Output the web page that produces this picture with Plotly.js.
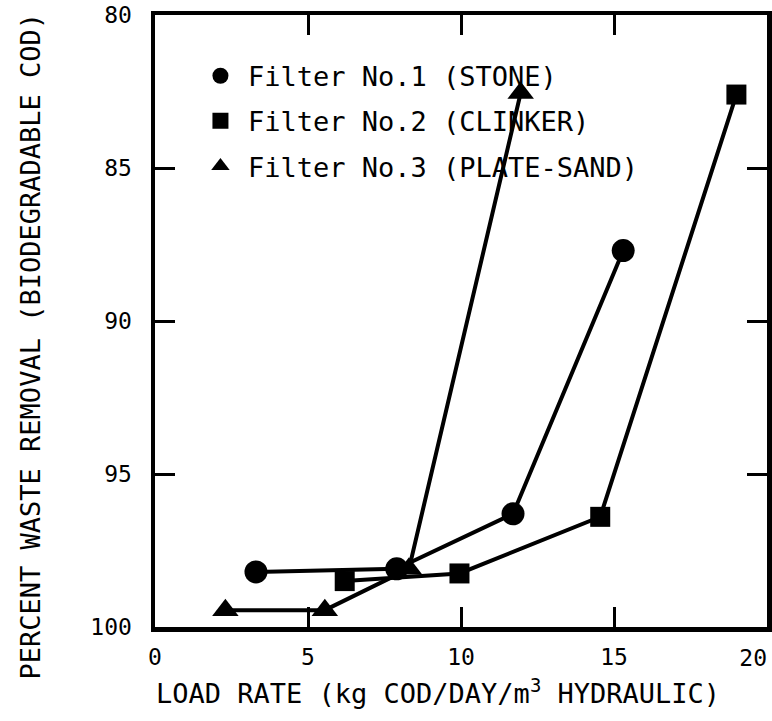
<!DOCTYPE html>
<html>
<head>
<meta charset="utf-8">
<script src="https://cdn.plot.ly/plotly-3.0.1.min.js"></script>
<style>html,body{margin:0;padding:0;background:#fff;}</style>
</head>
<body>
<div id="chart" style="width:772px;height:721px;"></div>
<script>
const filter1X = [3.3, 7.9, 11.7, 15.3];
const filter1Y = [98.2, 98.1, 96.3, 87.7];
const filter2X = [6.2, 9.95, 14.55, 19.0];
const filter2Y = [98.5, 98.25, 96.4, 82.6];
const filter3X = [2.3, 5.55, 8.3, 11.95];
const filter3Y = [99.45, 99.45, 98.1, 82.55];
const seriesNames = ["Filter No.1 (STONE)", "Filter No.2 (CLINKER)", "Filter No.3 (PLATE-SAND)"];
const xTicks = [0, 5, 10, 15];
const xTickText = ["0", "5", "10", "15"];
const xEdgeTick = [20];
const xEdgeText = ["20"];
const yTicks = [80, 85, 90, 95, 100];
const xTitle = "LOAD RATE (kg COD/DAY/m<sup>3</sup> HYDRAULIC)";
const yTitle = "PERCENT WASTE REMOVAL (BIODEGRADABLE COD)";

const FONT = "DejaVu Sans Mono, Liberation Mono, monospace";
const line = {color: "#000", width: 4};

const traces = [
  {x: filter1X, y: filter1Y, mode: "lines+markers", line: line, showlegend: false,
   marker: {symbol: "circle", size: 23, color: "#000"}},
  {x: filter2X, y: filter2Y, mode: "lines+markers", line: line, showlegend: false,
   marker: {symbol: "square", size: 20, color: "#000"}},
  {x: filter3X, y: filter3Y, mode: "lines+markers", line: line, showlegend: false,
   marker: {symbol: "triangle-up", size: 23, color: "#000"}},
  {x: [null], y: [null], mode: "markers", name: seriesNames[0], legendgroup: "a",
   marker: {symbol: "circle", size: 23, color: "#000"}},
  {x: [null], y: [null], mode: "markers", name: seriesNames[1], legendgroup: "b",
   marker: {symbol: "square", size: 20, color: "#000"}},
  {x: [null], y: [null], mode: "markers", name: seriesNames[2], legendgroup: "c",
   marker: {symbol: "triangle-up", size: 23, color: "#000"}},
  {x: [null], y: [null], xaxis: "x2", yaxis: "y", mode: "markers", showlegend: false, hoverinfo: "skip"}
];

const layout = {
  width: 772, height: 721,
  paper_bgcolor: "#fff", plot_bgcolor: "#fff",
  margin: {l: 155, r: 5, t: 15, b: 94},
  font: {family: FONT, color: "#000", size: 24},
  xaxis: {
    range: [0, 20], tickvals: xTicks, ticktext: xTickText,
    ticks: "inside", ticklen: 20, tickwidth: 3, tickcolor: "#000",
    showline: true, linewidth: 4.5, linecolor: "#000", mirror: "ticks",
    showgrid: false, zeroline: false,
    tickfont: {family: FONT, size: 23},
    ticklabelstandoff: 6
  },
  xaxis2: {
    range: [0, 20], overlaying: "x", anchor: "y", side: "bottom",
    tickvals: xEdgeTick, ticktext: xEdgeText,
    ticks: "", showline: false, showgrid: false, zeroline: false,
    tickfont: {family: FONT, size: 23},
    ticklabelposition: "outside left", ticklabelstandoff: 15
  },
  yaxis: {
    range: [100, 80], tickvals: yTicks, ticktext: yTicks.map(String),
    ticks: "inside", ticklen: 20, tickwidth: 3, tickcolor: "#000",
    showline: true, linewidth: 4.5, linecolor: "#000", mirror: "ticks",
    showgrid: false, zeroline: false,
    tickfont: {family: FONT, size: 23},
    ticklabelstandoff: 14, ticklabeloverflow: "allow"
  },
  annotations: [
    {text: xTitle, xref: "paper", yref: "paper", x: 0.462, y: -0.105,
     xanchor: "center", yanchor: "middle", showarrow: false,
     font: {family: FONT, size: 27}},
    {text: yTitle, xref: "paper", yref: "paper", x: -0.203, y: 0.458,
     xanchor: "center", yanchor: "middle", showarrow: false, textangle: -90,
     font: {family: FONT, size: 27}}
  ],
  legend: {
    x: 0.062, y: 0.94, xanchor: "left", yanchor: "top",
    bgcolor: "rgba(0,0,0,0)", borderwidth: 0,
    font: {family: FONT, size: 27},
    tracegroupgap: 7, itemsizing: "trace", itemwidth: 45
  },
  showlegend: true
};

Plotly.newPlot("chart", traces, layout, {displayModeBar: false, staticPlot: true});
</script>
</body>
</html>
